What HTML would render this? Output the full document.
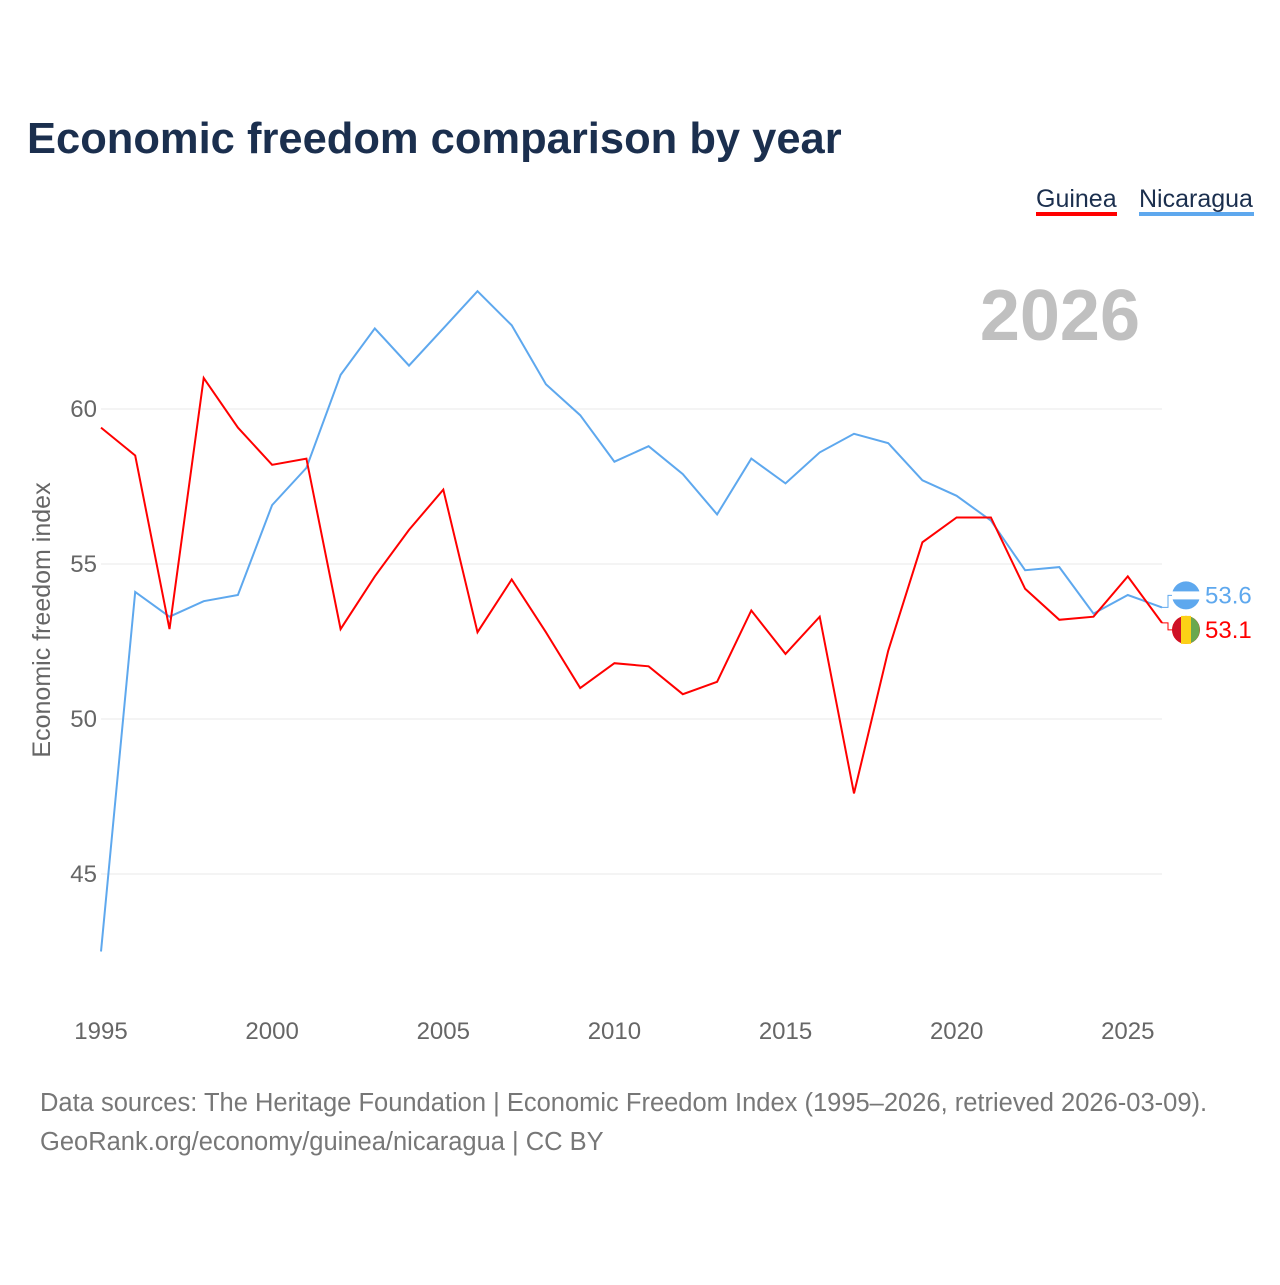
<!DOCTYPE html>
<html><head><meta charset="utf-8"><style>
body{margin:0;background:#fff;font-family:"Liberation Sans",sans-serif;}
svg text{font-family:"Liberation Sans",sans-serif;}
</style></head><body>
<svg width="1280" height="1280" viewBox="0 0 1280 1280">
<text x="27" y="153" font-size="43.5" font-weight="bold" fill="#1b2f4e">Economic freedom comparison by year</text>
<g><text x="1036" y="207" font-size="25" fill="#1b2f4e">Guinea</text><rect x="1036" y="212" width="81" height="4" fill="#ff0000"/></g>
<g><text x="1139" y="207" font-size="25" fill="#1b2f4e">Nicaragua</text><rect x="1139" y="212" width="115" height="4" fill="#5ea8ee"/></g>
<text x="1140" y="340" font-size="72" font-weight="bold" fill="#c0c0c0" text-anchor="end">2026</text>
<g id="grid"></g><g id="xt"></g>
<text transform="translate(50,620) rotate(-90)" font-size="25" fill="#666" text-anchor="middle">Economic freedom index</text>
<g id="lines"></g>
<text x="40" y="1111" font-size="25.5" fill="#777">Data sources: The Heritage Foundation | Economic Freedom Index (1995–2026, retrieved 2026-03-09).</text>
<text x="40" y="1150" font-size="25.5" fill="#777">GeoRank.org/economy/guinea/nicaragua | CC BY</text>
</svg>
<script>
const years=[1995,1996,1997,1998,1999,2000,2001,2002,2003,2004,2005,2006,2007,2008,2009,2010,2011,2012,2013,2014,2015,2016,2017,2018,2019,2020,2021,2022,2023,2024,2025,2026];
const guinea=[59.4,58.5,52.9,61.0,59.4,58.2,58.4,52.9,54.6,56.1,57.4,52.8,54.5,52.8,51.0,51.8,51.7,50.8,51.2,53.5,52.1,53.3,47.6,52.2,55.7,56.5,56.5,54.2,53.2,53.3,54.6,53.1];
const nicaragua=[42.5,54.1,53.3,53.8,54.0,56.9,58.1,61.1,62.6,61.4,62.6,63.8,62.7,60.8,59.8,58.3,58.8,57.9,56.6,58.4,57.6,58.6,59.2,58.9,57.7,57.2,56.4,54.8,54.9,53.4,54.0,53.6];
const yTicks=[45,50,55,60];
const xTicks=[1995,2000,2005,2010,2015,2020,2025];
const NS="http://www.w3.org/2000/svg";
const X=y=>101+(y-1995)*(1162-101)/31;
const Y=v=>409+(60-v)*31;
function mk(t,a,p){const e=document.createElementNS(NS,t);for(const k in a)e.setAttribute(k,a[k]);p.appendChild(e);return e;}
const g=document.getElementById('grid');
yTicks.forEach(v=>{
 const l=mk('line',{x1:101,x2:1162,y1:Y(v),y2:Y(v),stroke:'#e8e8e8','stroke-width':1},g);
 
 
 const t=mk('text',{x:97,y:Y(v)+8,'font-size':24,fill:'#666','text-anchor':'end'},g);t.textContent=v;
 
 
});
const xt=document.getElementById('xt');
xTicks.forEach(v=>{
 const t=mk('text',{x:X(v),y:1039,'font-size':24,fill:'#666','text-anchor':'middle'},xt);t.textContent=v;
 
 
});
const L=document.getElementById('lines');
[[nicaragua,'#5ea8ee','nicaragua'],[guinea,'#ff0000','guinea']].forEach(([d,c,n])=>{
 const p=mk('path',{d:d.map((v,i)=>(i?'L':'M')+X(years[i]).toFixed(1)+','+Y(v).toFixed(1)).join(''),fill:'none',stroke:c,'stroke-width':2},L);
 
 
 const last=d[d.length-1];
 const ly=n==='nicaragua'?Y(last)-12:Y(last)+7;
 const cx=1186;
 const c1=mk('circle',{cx:cx,cy:ly,r:14,fill:c},L);
 
 
 if(n==='guinea'){mk('rect',{x:cx-5,y:ly-14,width:10,height:28,fill:'#fcd116'},L);mk('path',{d:`M${cx+5},${ly-13}A14,14 0 0 1 ${cx+5},${ly+13}Z`,fill:'#6aa84f'},L);mk('path',{d:`M${cx-5},${ly-13}A14,14 0 0 0 ${cx-5},${ly+13}Z`,fill:'#ce1126'},L);}
 else{mk('rect',{x:cx-14,y:ly-4,width:28,height:8,fill:'#fff'},L);}
 mk('path',{d:`M1162,${Y(last)}h6V${ly}h4`,fill:'none',stroke:c,'stroke-width':1},L);
 const t=mk('text',{x:1205,y:ly+8,'font-size':24,fill:c},L);t.textContent=last.toFixed(1);
 
 
});
</script>
</body></html>
